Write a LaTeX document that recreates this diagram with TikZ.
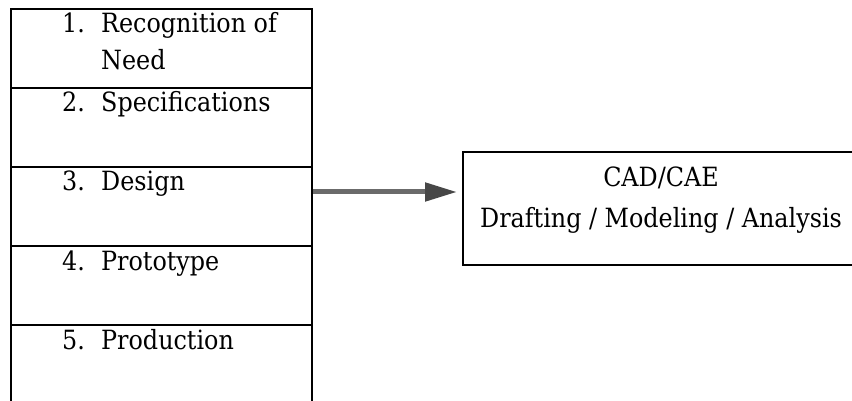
\documentclass[tikz,border=0pt]{standalone}
\usepackage{fontspec}
\setmainfont{DejaVu Serif Condensed}
\usetikzlibrary{arrows.meta}
\begin{document}
\begin{tikzpicture}[x=1pt,y=-1pt,
  rowbox/.style={draw=black,line width=1.7pt,minimum width=301pt,minimum height=79pt,inner sep=0pt,anchor=north west},
  txt/.style={anchor=base west,inner sep=0pt,font=\fontsize{26.5}{30}\selectfont},
  ctxt/.style={anchor=base,inner sep=0pt,font=\fontsize{26.5}{30}\selectfont}]
\useasboundingbox (0,0) rectangle (852,401);
\clip (0,0) rectangle (852,401);
\fill[white] (0,0) rectangle (852,401);
% left column
\node[rowbox] (r1) at (10,8) {};
\node[rowbox] (r2) at (10,87) {};
\node[rowbox] (r3) at (10,166) {};
\node[rowbox] (r4) at (10,245) {};
\node[rowbox] (r5) at (10,324) {};
\node[txt] (n1) at (62,33) {1.};
\node[txt] (t1) at (101,33) {Recognition of};
\node[txt] (t1b) at (101,70) {Need};
\node[txt] (n2) at (62,112) {2.};
\node[txt] (t2) at (101,112) {Specifications};
\node[txt] (n3) at (62,191) {3.};
\node[txt] (t3) at (101,191) {Design};
\node[txt] (n4) at (62,270) {4.};
\node[txt] (t4) at (101,270) {Prototype};
\node[txt] (n5) at (62,349) {5.};
\node[txt] (t5) at (101,349) {Production};
% right box
\node[draw=black,line width=1.7pt,minimum width=420pt,minimum height=113pt,inner sep=0pt,anchor=north west] (cad) at (462,151) {};
\node[ctxt] (c1) at (661,187) {CAD/CAE};
\node[ctxt] (c2) at (661,227) {Drafting / Modeling / Analysis};
% arrow
\coordinate (a0) at (r3.east |- 0,192);
\coordinate (a1) at (457,192);
\draw[draw=black!58,line width=5pt,-{Triangle[length=32pt,width=18pt,fill=black!72,color=black!72]}] (a0) -- (a1);
\end{tikzpicture}
\end{document}
